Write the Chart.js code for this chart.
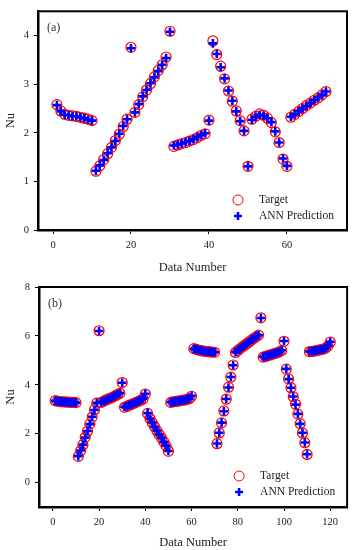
<!DOCTYPE html>
<html>
<head>
<meta charset="utf-8">
<script src="https://cdn.jsdelivr.net/npm/chart.js@4.4.0/dist/chart.umd.min.js"></script>
<style>
  html, body { margin: 0; padding: 0; background: #fff; }
  .panel { position: relative; width: 354px; height: 275px; }
</style>
</head>
<body>
<div class="panel"><canvas id="chart-a"></canvas></div>
<div class="panel"><canvas id="chart-b"></canvas></div>
<script>
// panel (a)
const dataNumberA = [
  1, 2, 3, 4, 5, 6, 7, 8, 9, 10,
  11, 12, 13, 14, 15, 16, 17, 18, 19, 20,
  21, 22, 23, 24, 25, 26, 27, 28, 29, 30,
  31, 32, 33, 34, 35, 36, 37, 38, 39, 40,
  41, 42, 43, 44, 45, 46, 47, 48, 49, 50,
  51, 52, 53, 54, 55, 56, 57, 58, 59, 60,
  61, 62, 63, 64, 65, 66, 67, 68, 69, 70
]
const targetA = [
  2.58, 2.45, 2.38, 2.36, 2.35, 2.34, 2.32, 2.30, 2.28, 2.25,
  1.21, 1.32, 1.45, 1.57, 1.70, 1.84, 1.97, 2.13, 2.28, 3.76,
  2.42, 2.58, 2.74, 2.88, 3.01, 3.15, 3.28, 3.40, 3.56, 4.09,
  1.72, 1.75, 1.78, 1.80, 1.83, 1.86, 1.90, 1.95, 1.98, 2.26,
  3.89, 3.61, 3.37, 3.11, 2.86, 2.65, 2.45, 2.25, 2.04, 1.31,
  2.28, 2.34, 2.39, 2.36, 2.30, 2.21, 2.02, 1.80, 1.46, 1.31,
  2.32, 2.38, 2.44, 2.50, 2.56, 2.61, 2.67, 2.72, 2.78, 2.85
]
const predictionA = [
  2.57, 2.44, 2.37, 2.36, 2.34, 2.34, 2.32, 2.30, 2.27, 2.25,
  1.22, 1.33, 1.44, 1.58, 1.70, 1.83, 1.98, 2.14, 2.28, 3.74,
  2.42, 2.59, 2.75, 2.88, 3.02, 3.14, 3.27, 3.40, 3.54, 4.08,
  1.74, 1.76, 1.78, 1.81, 1.83, 1.87, 1.91, 1.95, 1.99, 2.25,
  3.84, 3.62, 3.35, 3.12, 2.87, 2.66, 2.44, 2.24, 2.04, 1.31,
  2.27, 2.33, 2.37, 2.35, 2.30, 2.22, 2.03, 1.80, 1.47, 1.32,
  2.33, 2.38, 2.44, 2.50, 2.55, 2.61, 2.67, 2.73, 2.78, 2.85
]
const xTicksA = [0, 20, 40, 60]
const yTicksA = [0, 1, 2, 3, 4]

// panel (b)
const dataNumberB = [
  1, 2, 3, 4, 5, 6, 7, 8, 9, 10,
  11, 12, 13, 14, 15, 16, 17, 18, 19, 20,
  21, 22, 23, 24, 25, 26, 27, 28, 29, 30,
  31, 32, 33, 34, 35, 36, 37, 38, 39, 40,
  41, 42, 43, 44, 45, 46, 47, 48, 49, 50,
  51, 52, 53, 54, 55, 56, 57, 58, 59, 60,
  61, 62, 63, 64, 65, 66, 67, 68, 69, 70,
  71, 72, 73, 74, 75, 76, 77, 78, 79, 80,
  81, 82, 83, 84, 85, 86, 87, 88, 89, 90,
  91, 92, 93, 94, 95, 96, 97, 98, 99, 100,
  101, 102, 103, 104, 105, 106, 107, 108, 109, 110,
  111, 112, 113, 114, 115, 116, 117, 118, 119, 120
]
const targetB = [
  3.35, 3.33, 3.31, 3.30, 3.30, 3.29, 3.29, 3.28, 3.28, 3.27,
  1.07, 1.30, 1.55, 1.85, 2.10, 2.40, 2.68, 2.98, 3.25, 6.21,
  3.28, 3.33, 3.38, 3.42, 3.46, 3.50, 3.55, 3.60, 3.65, 4.09,
  3.08, 3.12, 3.16, 3.20, 3.24, 3.28, 3.32, 3.37, 3.42, 3.62,
  2.83, 2.62, 2.45, 2.28, 2.12, 1.97, 1.82, 1.66, 1.50, 1.28,
  3.28, 3.30, 3.32, 3.33, 3.34, 3.36, 3.38, 3.40, 3.43, 3.53,
  5.48, 5.45, 5.42, 5.40, 5.38, 5.37, 5.36, 5.35, 5.34, 5.33,
  1.59, 2.03, 2.44, 2.93, 3.41, 3.90, 4.31, 4.81, 5.32, 5.40,
  5.48, 5.55, 5.62, 5.69, 5.76, 5.83, 5.90, 5.97, 6.03, 6.74,
  5.13, 5.16, 5.19, 5.22, 5.25, 5.28, 5.31, 5.35, 5.40, 5.78,
  4.64, 4.24, 3.88, 3.51, 3.20, 2.80, 2.41, 2.03, 1.63, 1.15,
  5.36, 5.37, 5.38, 5.40, 5.42, 5.44, 5.46, 5.50, 5.58, 5.75
]
const predictionB = [
  3.34, 3.33, 3.31, 3.31, 3.29, 3.29, 3.28, 3.28, 3.27, 3.27,
  1.08, 1.31, 1.55, 1.84, 2.11, 2.39, 2.69, 2.97, 3.26, 6.20,
  3.29, 3.33, 3.37, 3.42, 3.47, 3.51, 3.55, 3.61, 3.66, 4.08,
  3.09, 3.12, 3.17, 3.20, 3.25, 3.28, 3.33, 3.37, 3.43, 3.63,
  2.84, 2.61, 2.46, 2.27, 2.13, 1.96, 1.83, 1.66, 1.51, 1.29,
  3.29, 3.30, 3.31, 3.33, 3.35, 3.36, 3.38, 3.41, 3.43, 3.55,
  5.47, 5.45, 5.42, 5.41, 5.38, 5.37, 5.35, 5.35, 5.34, 5.33,
  1.60, 2.04, 2.45, 2.92, 3.42, 3.89, 4.32, 4.80, 5.33, 5.41,
  5.48, 5.56, 5.62, 5.70, 5.76, 5.84, 5.90, 5.98, 6.03, 6.73,
  5.14, 5.16, 5.20, 5.22, 5.26, 5.28, 5.32, 5.35, 5.41, 5.79,
  4.65, 4.23, 3.88, 3.52, 3.19, 2.81, 2.40, 2.04, 1.64, 1.16,
  5.36, 5.38, 5.38, 5.41, 5.42, 5.45, 5.46, 5.51, 5.59, 5.76
]
const xTicksB = [0, 20, 40, 60, 80, 100, 120]
const yTicksB = [0, 2, 4, 6, 8]

const serif = '"Liberation Serif", "DejaVu Serif", serif'

// black box round the plot area
const framePlugin = {
  id: 'frame',
  beforeDatasetsDraw(chart) {
    const { ctx, chartArea: a } = chart
    ctx.save()
    ctx.strokeStyle = '#000'
    ctx.lineWidth = 2
    ctx.strokeRect(a.left, a.top, a.right - a.left, a.bottom - a.top)
    ctx.restore()
  }
}

// panel letter and the legend inside the plot
const notePlugin = {
  id: 'note',
  afterDraw(chart, args, opts) {
    const { ctx, chartArea: a } = chart
    ctx.save()
    ctx.fillStyle = '#333'
    ctx.textBaseline = 'middle'
    ctx.font = '12px ' + serif
    ctx.fillText(opts.panel, a.left + 9, a.top + 17)

    const mx = a.right - opts.legendRight
    const y1 = a.bottom - opts.legendBottom
    const y2 = y1 + 16
    ctx.strokeStyle = '#ff0000'
    ctx.lineWidth = 1
    ctx.beginPath()
    ctx.arc(mx, y1, 5, 0, Math.PI * 2)
    ctx.stroke()
    ctx.strokeStyle = '#0000ff'
    ctx.lineWidth = 2.5
    ctx.beginPath()
    ctx.moveTo(mx - 4, y2); ctx.lineTo(mx + 4, y2)
    ctx.moveTo(mx, y2 - 4); ctx.lineTo(mx, y2 + 4)
    ctx.stroke()

    ctx.fillStyle = '#222'
    ctx.font = '11.5px ' + serif
    ctx.fillText('Target', mx + 21, y1)
    ctx.fillText('ANN Prediction', mx + 21, y2)
    ctx.restore()
  }
}

function pointsOf(xs, ys) {
  return xs.map((x, i) => ({ x, y: ys[i] }))
}

function makeChart(id, cfg) {
  const ctx = document.getElementById(id).getContext('2d')
  return new Chart(ctx, {
    type: 'scatter',
    data: {
      datasets: [
        {
          label: 'Target',
          data: pointsOf(cfg.xs, cfg.target),
          pointStyle: 'circle',
          pointRadius: 5,
          pointBorderWidth: 1.2,
          pointBorderColor: '#ff0000',
          pointBackgroundColor: 'rgba(255,255,255,0)',
          order: 2
        },
        {
          label: 'ANN Prediction',
          data: pointsOf(cfg.xs, cfg.prediction),
          pointStyle: 'cross',
          pointRadius: 4.3,
          pointBorderWidth: 2.6,
          pointBorderColor: '#0000ff',
          pointBackgroundColor: '#0000ff',
          order: 1
        }
      ]
    },
    options: {
      responsive: true,
      maintainAspectRatio: false,
      animation: false,
      devicePixelRatio: 1,
      layout: { padding: cfg.padding },
      scales: {
        x: {
          type: 'linear',
          min: cfg.xMin,
          max: cfg.xMax,
          afterBuildTicks: s => { s.ticks = cfg.xTicks.map(v => ({ value: v })) },
          afterFit: s => { s.height = cfg.xHeight },
          grid: { display: true, drawOnChartArea: false, drawTicks: true, tickLength: 4, color: '#000' },
          border: { display: true, color: '#000', width: 2.5 },
          ticks: { color: '#222', padding: 5, maxRotation: 0, font: { family: serif, size: 10.5 } },
          title: { display: true, text: 'Data Number', color: '#222', padding: { top: 0, bottom: 0 }, font: { family: serif, size: 12.5 } }
        },
        y: {
          type: 'linear',
          min: cfg.yMin,
          max: cfg.yMax,
          afterBuildTicks: s => { s.ticks = cfg.yTicks.map(v => ({ value: v })) },
          afterFit: s => { s.width = cfg.yWidth },
          grid: { display: true, drawOnChartArea: false, drawTicks: true, tickLength: 4, color: '#000' },
          border: { display: true, color: '#000', width: 2.5 },
          ticks: { color: '#222', padding: 5, font: { family: serif, size: 10.5 } },
          title: { display: true, text: 'Nu', color: '#222', padding: { top: 3, bottom: 0 }, font: { family: serif, size: 12.5 } }
        }
      },
      plugins: {
        legend: { display: false },
        tooltip: { enabled: false },
        note: { panel: cfg.panel, legendRight: cfg.legendRight, legendBottom: cfg.legendBottom }
      }
    },
    plugins: [framePlugin, notePlugin]
  })
}

makeChart('chart-a', {
  panel: '(a)',
  xs: dataNumberA, target: targetA, prediction: predictionA,
  xMin: -3.85, xMax: 75.4, xTicks: xTicksA,
  yMin: 0, yMax: 4.5, yTicks: yTicksA,
  padding: { top: 5, right: 7, left: 0, bottom: 0 },
  xHeight: 45, yWidth: 38,
  legendRight: 109, legendBottom: 30
})

makeChart('chart-b', {
  panel: '(b)',
  xs: dataNumberB, target: targetB, prediction: predictionB,
  xMin: -6, xMax: 127.3, xTicks: xTicksB,
  yMin: -1, yMax: 8, yTicks: yTicksB,
  padding: { top: 12, right: 6, left: 0, bottom: 0 },
  xHeight: 43, yWidth: 39,
  legendRight: 108, legendBottom: 31
})
</script>
</body>
</html>
